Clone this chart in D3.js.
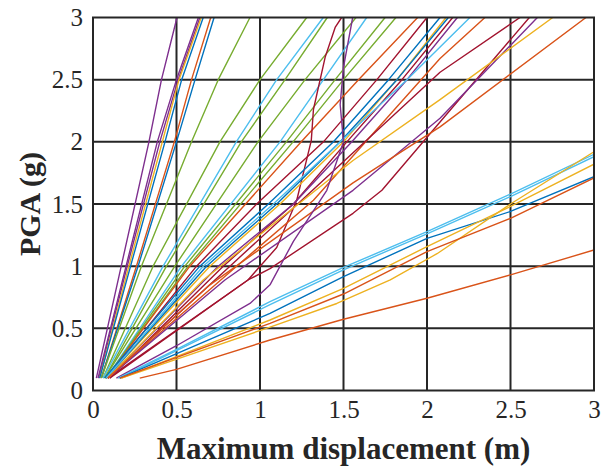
<!DOCTYPE html>
<html><head><meta charset="utf-8">
<script src="https://cdn.jsdelivr.net/npm/d3@7/dist/d3.min.js"></script>
<style>body{margin:0;background:#fff}text{font-family:"Liberation Serif","Times New Roman",serif}</style>
</head><body>
<svg id="chart" width="606" height="466"></svg>
<script>
// ---- data (displacement m, PGA g) ----
const xTicks = [0, 0.5, 1, 1.5, 2, 2.5, 3];
const yTicks = [0, 0.5, 1, 1.5, 2, 2.5, 3];
const xTickLabels = ["0", "0.5", "1", "1.5", "2", "2.5", "3"];
const yTickLabels = ["0", "0.5", "1", "1.5", "2", "2.5", "3"];
const xLabel = "Maximum displacement (m)";
const yLabel = "PGA (g)";

// color index per curve (MATLAB order: 0 blue,1 orange,2 yellow,3 purple,4 green,5 light blue,6 crimson)
const curveColor = [3,3,3,2,0,1,0, 4,4,5,4,4,5,4,4,1, 6, 6,0,2,0,6,3,5, 1,6,6,3,2,1, 3,5,5,0,2,2,1,1];

const curves = [
  // steep group
  [[0.02,0.1],[0.169,1],[0.335,2],[0.41,2.5],[0.503,3]],
  [[0.03,0.1],[0.198,1],[0.385,2],[0.50,2.5],[0.631,3]],
  [[0.035,0.1],[0.205,1],[0.40,2],[0.51,2.5],[0.64,3]],
  [[0.04,0.1],[0.215,1],[0.415,2],[0.515,2.5],[0.648,3]],
  [[0.04,0.1],[0.225,1],[0.431,2],[0.531,2.5],[0.66,3]],
  [[0.05,0.1],[0.26,1],[0.487,2],[0.59,2.5],[0.705,3]],
  [[0.05,0.1],[0.27,1],[0.50,2],[0.611,2.5],[0.725,3]],
  // middle group
  [[0.05,0.1],[0.29,1],[0.59,2],[0.75,2.5],[0.94,3]],
  [[0.06,0.1],[0.36,1],[0.76,2],[1.0,2.5],[1.28,3]],
  [[0.06,0.1],[0.42,1],[0.858,2],[1.10,2.5],[1.379,3]],
  [[0.07,0.1],[0.44,1],[0.888,2],[1.15,2.5],[1.403,3]],
  [[0.07,0.1],[0.49,1],[0.988,2],[1.27,2.5],[1.575,3]],
  [[0.08,0.1],[0.53,1],[1.12,2],[1.38,2.5],[1.639,3]],
  [[0.08,0.1],[0.55,1],[1.158,2],[1.45,2.5],[1.749,3]],
  [[0.08,0.1],[0.57,1],[1.198,2],[1.50,2.5],[1.814,3]],
  [[0.08,0.1],[0.58,1],[1.247,2],[1.59,2.5],[1.944,3]],
  [[0.09,0.1],[0.928,0.889],[1.1,1.15],[1.22,1.53],[1.307,2.01],[1.32,2.26],[1.39,2.68],[1.45,2.92],[1.489,3]],
  // bundle
  [[0.08,0.1],[0.62,1],[0.98,1.5],[1.38,2],[1.7,2.5],[2.0,3]],
  [[0.07,0.1],[0.64,1],[1.05,1.5],[1.44,2],[1.77,2.5],[2.078,3]],
  [[0.08,0.1],[0.70,1],[1.12,1.5],[1.50,2],[1.82,2.5],[2.114,3]],
  [[0.08,0.1],[0.68,1],[1.1,1.5],[1.48,2],[1.82,2.5],[2.128,3]],
  [[0.1,0.1],[0.78,1],[1.2,1.5],[1.52,2],[1.85,2.5],[2.154,3]],
  [[0.09,0.1],[0.75,1],[1.2,1.5],[1.55,2],[1.88,2.5],[2.182,3]],
  [[0.08,0.1],[0.66,1],[1.08,1.5],[1.48,2],[1.88,2.5],[2.257,3]],
  // lower-middle
  [[0.09,0.1],[0.86,1],[1.32,1.53],[2.078,2.67],[2.347,3]],
  [[0.09,0.1],[0.82,1],[1.25,1.53],[2.078,2.56],[2.557,3]],
  [[0.1,0.1],[0.928,0.889],[1.06,0.98],[1.557,1.425],[1.73,1.61],[2.078,2.16],[2.613,3]],
  [[0.09,0.1],[0.79,0.889],[1.557,1.61],[2.078,2.19],[2.661,3]],
  [[0.09,0.1],[0.66,0.889],[1.557,1.85],[2.078,2.34],[2.753,3]],
  [[0.09,0.1],[0.7,0.85],[1.557,1.67],[2.078,2.12],[2.952,3]],
  // lower group
  [[0.14,0.1],[0.5,0.36],[0.94,0.70],[1.06,0.85],[1.2,1.2],[1.4,1.61],[1.5,2.0],[1.48,2.3],[1.5,2.6],[1.555,3]],
  [[0.15,0.1],[0.5,0.33],[1.06,0.714],[1.5,0.99],[2,1.277],[2.5,1.58],[3,1.90]],
  [[0.16,0.1],[0.5,0.32],[1.06,0.69],[1.5,0.97],[2,1.26],[2.5,1.56],[3,1.88]],
  [[0.16,0.1],[1.06,0.62],[1.5,0.915],[2,1.224],[2.5,1.44],[3,1.72]],
  [[0.17,0.1],[1.06,0.51],[1.46,0.70],[1.78,0.89],[2.06,1.10],[2.5,1.50],[3,1.92]],
  [[0.17,0.1],[1.06,0.567],[1.5,0.822],[2,1.157],[2.5,1.48],[3,1.82]],
  [[0.16,0.1],[1.06,0.54],[1.5,0.776],[2,1.117],[2.5,1.385],[3,1.71]],
  [[0.28,0.1],[0.5,0.17],[1.06,0.406],[1.5,0.573],[2,0.742],[2.5,0.93],[3,1.13]]
];

// ---- drawing ----
const palette = ["#0072BD","#D95319","#EDB120","#7E2F8E","#77AC30","#4DBEEE","#A2142F"];
const W = 606, H = 466;
const m = {left: 93, top: 17.5, right: 12, bottom: 75.5};
const iw = W - m.left - m.right, ih = H - m.top - m.bottom;

const svg = d3.select("#chart");
const x = d3.scaleLinear().domain([0, 3]).range([m.left, m.left + iw]);
const y = d3.scaleLinear().domain([0, 3]).range([m.top + ih, m.top]);

svg.append("defs").append("clipPath").attr("id", "clip")
  .append("rect").attr("x", m.left).attr("y", m.top).attr("width", iw).attr("height", ih);

// grid
const g = svg.append("g");
g.selectAll(".gx").data(xTicks.slice(1, -1)).join("line")
  .attr("x1", d => x(d)).attr("x2", d => x(d)).attr("y1", m.top).attr("y2", m.top + ih)
  .attr("stroke", "#262626").attr("stroke-width", 2);
g.selectAll(".gy").data(yTicks.slice(1, -1)).join("line")
  .attr("y1", d => y(d)).attr("y2", d => y(d)).attr("x1", m.left).attr("x2", m.left + iw)
  .attr("stroke", "#262626").attr("stroke-width", 2);

// curves
const line = d3.line().x(d => x(d[0])).y(d => y(d[1]));
svg.append("g").attr("clip-path", "url(#clip)")
  .selectAll("path").data(curves).join("path")
  .attr("d", line).attr("fill", "none")
  .attr("stroke", (d, i) => palette[curveColor[i]])
  .attr("stroke-width", 1.4).attr("stroke-linejoin", "round");

// box
svg.append("rect").attr("x", m.left).attr("y", m.top).attr("width", iw).attr("height", ih)
  .attr("fill", "none").attr("stroke", "#262626").attr("stroke-width", 2);

// axes labels (ticks)
const xAxis = d3.axisBottom(x).tickValues(xTicks).tickFormat((d, i) => xTickLabels[i]).tickSize(0).tickPadding(10);
const xg = svg.append("g").attr("transform", `translate(0,${m.top + ih})`).call(xAxis);
xg.select(".domain").remove();
xg.selectAll("text").attr("font-size", 25).attr("fill", "#262626")
  .style("font-family", "'Liberation Serif', serif");

const yAxis = d3.axisLeft(y).tickValues(yTicks).tickFormat((d, i) => yTickLabels[i]).tickSize(0).tickPadding(10);
const yg = svg.append("g").attr("transform", `translate(${m.left},0)`).call(yAxis);
yg.select(".domain").remove();
yg.selectAll("text").attr("font-size", 25).attr("fill", "#262626")
  .style("font-family", "'Liberation Serif', serif");

svg.append("text").attr("x", m.left + iw / 2).attr("y", 459)
  .attr("text-anchor", "middle").attr("font-size", 31).attr("font-weight", "bold").attr("fill", "#262626")
  .text(xLabel);
svg.append("text").attr("transform", `translate(40,${m.top + ih / 2}) rotate(-90)`)
  .attr("text-anchor", "middle").attr("font-size", 30).attr("font-weight", "bold").attr("fill", "#262626")
  .text(yLabel);
</script>
</body></html>
